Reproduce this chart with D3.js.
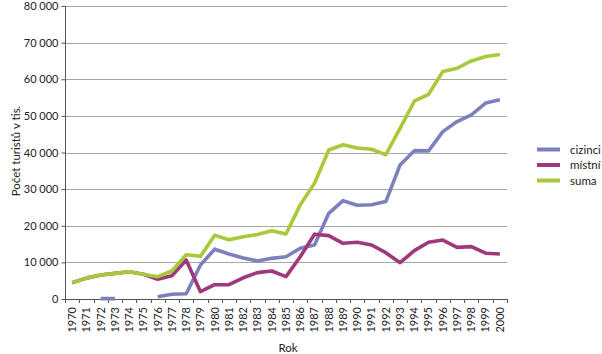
<!DOCTYPE html>
<html>
<head>
<meta charset="utf-8">
<script src="https://cdn.jsdelivr.net/npm/d3@7"></script>
<style>
  body { margin: 0; background: #fff; }
  text { font-family: Lato, "Open Sans", sans-serif; fill: #222; }
</style>
</head>
<body>
<script>
const years = d3.range(1970, 2001).map(String);

// null = no value in the source
const cizinci = [null, null, 100, 100, null, null, 600, 1300, 1450, 9300,
  13600, 12300, 11200, 10400, 11100, 11550, 13850, 14750, 23400, 26850,
  25600, 25750, 26600, 36600, 40500, 40450, 45700, 48450, 50300, 53500, 54400];
const mistni = [4450, 5700, 6550, 7000, 7450, 6750, 5400, 6350, 10650, 2000,
  3900, 3900, 5800, 7200, 7650, 6100, 11550, 17700, 17300, 15200,
  15500, 14750, 12650, 9900, 13200, 15500, 16100, 14100, 14300, 12500, 12300];
const suma = [4450, 5700, 6550, 7000, 7450, 6750, 6100, 7650, 12100, 11650,
  17400, 16200, 17000, 17600, 18650, 17750, 25700, 31600, 40700, 42100,
  41250, 40900, 39400, 46600, 54000, 55900, 62100, 63000, 65000, 66200, 66750];

const yTicks = [0, 10000, 20000, 30000, 40000, 50000, 60000, 70000, 80000];

const series = [
  {name: "cizinci", values: cizinci, color: "#7e80bd"},
  {name: "místní", values: mistni, color: "#a0397b"},
  {name: "suma", values: suma, color: "#a7c93a"}
];

const width = 602, height = 354;
const m = {left: 65, right: 507, top: 6, bottom: 299};

const svg = d3.select("body").append("svg")
    .attr("width", width)
    .attr("height", height);

const x = d3.scaleBand(years, [m.left, m.right]).padding(0);
const y = d3.scaleLinear([0, 80000], [m.bottom, m.top]);

const fmt = d3.formatLocale({decimal: ",", thousands: " ", grouping: [3], currency: ["", ""]}).format(",");

// gridlines
svg.append("g")
  .selectAll("line")
  .data(yTicks.filter(d => d > 0))
  .join("line")
    .attr("x1", m.left)
    .attr("x2", m.right)
    .attr("y1", d => Math.round(y(d)) + 0.5)
    .attr("y2", d => Math.round(y(d)) + 0.5)
    .attr("stroke", "#a6a6a6")
    .attr("stroke-width", 1);

// y axis
const yAxis = svg.append("g")
    .attr("transform", `translate(${m.left + 0.5},0)`)
    .call(d3.axisLeft(y).tickValues(yTicks).tickFormat(fmt).tickSize(4).tickPadding(3));
yAxis.select(".domain").attr("stroke", "#555").attr("d", `M0,${m.top}V${m.bottom}`);
yAxis.selectAll(".tick line").attr("stroke", "#555");
yAxis.selectAll("text").attr("font-size", 11).attr("fill", "#222")
    .attr("font-family", "Lato, sans-serif");

// x axis
const xg = svg.append("g");
xg.append("line")
    .attr("x1", m.left).attr("x2", m.right)
    .attr("y1", m.bottom + 0.5).attr("y2", m.bottom + 0.5)
    .attr("stroke", "#555");
xg.selectAll(".xt")
  .data(years.concat(["end"]))
  .join("line")
    .attr("class", "xt")
    .attr("x1", d => Math.round(d === "end" ? m.right : x(d)) + 0.5)
    .attr("x2", d => Math.round(d === "end" ? m.right : x(d)) + 0.5)
    .attr("y1", m.bottom)
    .attr("y2", m.bottom + 4)
    .attr("stroke", "#555");
xg.selectAll("text")
  .data(years)
  .join("text")
    .attr("transform", d => `translate(${x(d) + x.bandwidth() / 2},307) rotate(-90)`)
    .attr("text-anchor", "end")
    .attr("dy", "0.35em")
    .attr("font-size", 11)
    .text(d => d);

// lines
const line = d3.line()
    .defined(d => d.v != null)
    .x(d => x(d.year) + x.bandwidth() / 2)
    .y(d => y(d.v));

svg.append("g")
  .selectAll("path")
  .data(series)
  .join("path")
    .attr("fill", "none")
    .attr("stroke", d => d.color)
    .attr("stroke-width", 3.6)
    .attr("stroke-linejoin", "round")
    .attr("d", d => line(years.map((yr, i) => ({year: yr, v: d.values[i]}))));

// axis titles
svg.append("text")
    .attr("transform", "translate(15.5,151) rotate(-90)")
    .attr("text-anchor", "middle")
    .attr("dy", "0.35em")
    .attr("font-size", 11.5)
    .text("Počet turistů v tis.");

svg.append("text")
    .attr("x", 288)
    .attr("y", 352)
    .attr("text-anchor", "middle")
    .attr("font-size", 11.5)
    .text("Rok");

// legend
const legend = svg.append("g")
  .selectAll("g")
  .data(series)
  .join("g")
    .attr("transform", (d, i) => `translate(537,${149.5 + i * 15.5})`);
legend.append("line")
    .attr("x1", 0).attr("x2", 23)
    .attr("stroke", d => d.color)
    .attr("stroke-width", 4);
legend.append("text")
    .attr("x", 33)
    .attr("dy", "0.35em")
    .attr("font-size", 11.5)
    .text(d => d.name);
</script>
</body>
</html>
